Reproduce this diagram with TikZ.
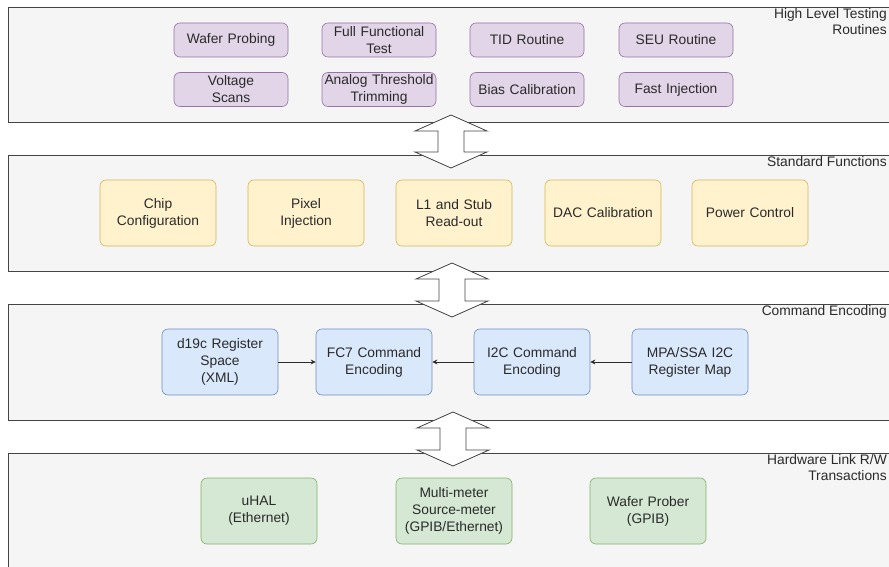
\documentclass[tikz,border=0pt]{standalone}
\usepackage{fontspec}
\setmainfont{Liberation Sans}
\usetikzlibrary{arrows.meta}
\definecolor{panelfill}{HTML}{F5F5F5}
\definecolor{paneldraw}{HTML}{444444}
\definecolor{pfill}{HTML}{E1D5E7}\definecolor{pdraw}{HTML}{9673A6}
\definecolor{yfill}{HTML}{FFF2CC}\definecolor{ydraw}{HTML}{D6B656}
\definecolor{bfill}{HTML}{DAE8FC}\definecolor{bdraw}{HTML}{6C8EBF}
\definecolor{gfill}{HTML}{D5E8D4}\definecolor{gdraw}{HTML}{82B366}
\definecolor{txt}{HTML}{2A2A2A}
\tikzset{
  panel/.style={fill=panelfill,draw=paneldraw,line width=0.9pt},
  plabel/.style={anchor=north east,align=right,font=\fontsize{13.8}{16.5}\selectfont,text=txt,inner sep=0pt},
  boxbase/.style={rounded corners=6pt,line width=0.6pt,align=center,inner sep=0pt,
     font=\fontsize{13.8}{17}\selectfont,text=txt,text width=114pt},
  pbox/.style={boxbase,fill=pfill,draw=pdraw,minimum width=114pt,minimum height=34pt},
  ybox/.style={boxbase,fill=yfill,draw=ydraw,minimum width=116pt,minimum height=66pt},
  bbox/.style={boxbase,fill=bfill,draw=bdraw,minimum width=116pt,minimum height=66pt},
  gbox/.style={boxbase,fill=gfill,draw=gdraw,minimum width=116pt,minimum height=66pt},
  dblarrow/.style={fill=white,draw=paneldraw,line width=0.8pt,line join=miter},
  conn/.style={draw=txt,line width=0.7pt,-{Stealth[length=5pt,width=5pt]}}
}
\newcommand{\dblarr}[3]{% cx, top, bottom
  \draw[dblarrow] (#1,#2) -- (#1+36,#2+16) -- (#1+13,#2+16) -- (#1+13,#3-16) -- (#1+36,#3-16)
    -- (#1,#3) -- (#1-36,#3-16) -- (#1-13,#3-16) -- (#1-13,#2+16) -- (#1-36,#2+16) -- cycle;}
\begin{document}
\begin{tikzpicture}[x=1pt,y=-1pt]
\useasboundingbox (0,0) rectangle (889,567);
\begin{scope}
\clip (0,0) rectangle (889,567);
\fill[white] (0,0) rectangle (889,567);
% panels
\draw[panel] (8,7) rectangle (905,122);
\draw[panel] (8,155) rectangle (905,271);
\draw[panel] (8,304) rectangle (905,420);
\draw[panel] (8,453) rectangle (905,590);
\node[plabel] (l1) at (887,8) {High Level Testing\\Routines};
\node[plabel] (l2) at (887,156) {Standard Functions};
\node[plabel] (l3) at (887,305) {Command Encoding};
\node[plabel] (l4) at (887,454) {Hardware Link R/W\\Transactions};
% purple
\node[pbox] (wp) at (231,40) {Wafer Probing};
\node[pbox] (fft) at (379,40) {Full Functional\\Test};
\node[pbox] (tid) at (527,40) {TID Routine};
\node[pbox] (seu) at (676,40) {SEU Routine};
\node[pbox] (vs) at (231,89.5) {Voltage\\Scans};
\node[pbox] (att) at (379,89.5) {Analog Threshold\\Trimming};
\node[pbox] (bc) at (527,89.5) {Bias Calibration};
\node[pbox] (fi) at (676,89.5) {Fast Injection};
% yellow
\node[ybox] (cc) at (158,213) {Chip\\Configuration};
\node[ybox] (pi) at (306,213) {Pixel\\Injection};
\node[ybox] (l1s) at (454,213) {L1 and Stub\\Read-out};
\node[ybox] (dac) at (603,213) {DAC Calibration};
\node[ybox] (pc) at (750,213) {Power Control};
% blue
\node[bbox] (d19) at (220,362) {d19c Register\\Space\\(XML)};
\node[bbox] (fc7) at (374,362) {FC7 Command\\Encoding};
\node[bbox] (i2c) at (532,362) {I2C Command\\Encoding};
\node[bbox] (mpa) at (690,362) {MPA/SSA I2C\\Register Map};
\draw[conn] (d19) -- (fc7);
\draw[conn] (i2c) -- (fc7);
\draw[conn] (mpa) -- (i2c);
% green
\node[gbox] (uhal) at (259,511) {uHAL\\(Ethernet)};
\node[gbox] (mm) at (454,511) {Multi-meter\\Source-meter\\(GPIB/Ethernet)};
\node[gbox] (wpr) at (648,511) {Wafer Prober\\(GPIB)};
% double arrows
\dblarr{451}{115}{168}
\dblarr{452}{263}{317}
\dblarr{453}{412}{466}
\end{scope}
\end{tikzpicture}
\end{document}
